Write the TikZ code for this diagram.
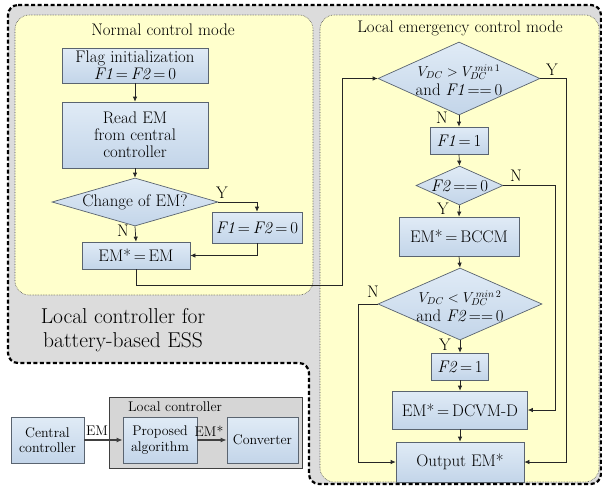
\documentclass[tikz,border=0pt]{standalone}
\usepackage{fontspec}
\usetikzlibrary{shapes.geometric,arrows.meta,calc}
\definecolor{boxtop}{HTML}{E0EBF6}
\definecolor{boxbot}{HTML}{C3D5E9}
\definecolor{boxline}{HTML}{5A6470}
\definecolor{panel}{HTML}{FFFFCC}
\definecolor{bggray}{HTML}{DCDCDC}
\definecolor{lcgray}{HTML}{D6D6D6}
\tikzset{
  flowbox/.style={rectangle, draw=boxline, line width=0.7pt, top color=boxtop, bottom color=boxbot, inner sep=1pt, align=center},
  decision/.style={diamond, draw=boxline, line width=0.7pt, top color=boxtop, bottom color=boxbot, inner sep=0pt, aspect=2},
  dtext/.style={inner sep=0pt, align=center},
  conn/.style={draw=black!85, line width=0.7pt, -{Latex[length=5pt,width=4.5pt]}},
  bigconn/.style={draw=black!75, line width=1.2pt, -{Latex[length=6pt,width=5pt]}},
  lbl/.style={inner sep=0pt},
  panelbox/.style={fill=panel, draw=black!70, densely dotted, line width=0.6pt, rounded corners=14pt},
}
\newcommand{\fa}{\textit{F1}}
\newcommand{\fb}{\textit{F2}}
\newcommand{\vcond}[2]{{\fontsize{14.5}{16}\selectfont$V_{DC} #1 V_{DC}^{\,min\,#2}$}}
\begin{document}
\begin{tikzpicture}[x=1pt, y=-1pt, font=\fontsize{16.8}{17}\selectfont]
\useasboundingbox (0,0) rectangle (602,485);
% gray outer region
\path[fill=bggray, draw=black, line width=2.2pt, dash pattern=on 4pt off 2.5pt, rounded corners=10pt]
  (8,5) -- (601,5) -- (601,484) -- (309,484) -- (309,363) -- (8,363) -- cycle;
% panels
\path[panelbox] (15,15) rectangle (313,295);
\path[panelbox] (320,15) rectangle (599,482);
\node[lbl] (t1) at (163,30) {Normal control mode};
\node[lbl] (t2) at (460,28) {Local emergency control mode};
% big label
\node[lbl, align=center, font=\fontsize{21.5}{24}\selectfont] (lcb) at (123,330) {Local controller for\\battery-based ESS};
% left flowchart
\node[flowbox, minimum width=146pt, minimum height=35pt] (flag) at (135,65.5) {Flag initialization\\\fa\,=\,\fb\,=\,0};
\node[flowbox, minimum width=146pt, minimum height=66pt] (read) at (135,135) {Read EM\\from central\\controller};
\node[decision, minimum width=166pt, minimum height=48pt] (chg) at (135,202) {};
\node[dtext] (chgt) at (135,202) {Change of EM?};
\node[flowbox, minimum width=90pt, minimum height=31pt] (f12) at (257,227.5) {\fa\,=\,\fb\,=\,0};
\node[flowbox, minimum width=108pt, minimum height=27pt] (emeq) at (136,255.5) {EM*\,=\,EM};
\draw[conn] (flag) -- (read);
\draw[conn] (read) -- (chg);
\draw[conn] (chg.south) -- (emeq.north);
\node[lbl] (n1) at (123,231) {N};
\draw[conn] (chg.east) -| (f12.north);
\node[lbl] (y1) at (222,193) {Y};
\draw[conn] (f12.south) |- (emeq.east);
% right flowchart
\node[decision, minimum width=162pt, minimum height=73pt] (d1) at (459,78.5) {};
\node[dtext] (d1t) at (459,80) {\vcond{>}{1}\\[2pt]and \fa\,==\,0};
\node[flowbox, minimum width=58pt, minimum height=27pt] (f1) at (459,140.5) {\fa\,=\,1};
\node[decision, minimum width=87pt, minimum height=39pt] (d2) at (459.5,185.5) {};
\node[dtext] (d2t) at (459.5,186) {\fb\,==\,0};
\node[flowbox, minimum width=120pt, minimum height=39pt] (bccm) at (459,236.5) {EM*\,=\,BCCM};
\node[decision, minimum width=164pt, minimum height=72pt] (d3) at (460,304) {};
\node[dtext] (d3t) at (460,306) {\vcond{<}{2}\\[2pt]and \fb\,==\,0};
\node[flowbox, minimum width=57pt, minimum height=27pt] (f2) at (460,366.5) {\fb\,=\,1};
\node[flowbox, minimum width=135pt, minimum height=38pt] (dcvm) at (460,410) {EM*\,=\,DCVM-D};
\node[flowbox, minimum width=128pt, minimum height=40pt] (out) at (460,462) {Output EM*};
\coordinate (j1) at (342,285);
\coordinate (r1) at (566,78.5);
\coordinate (r2) at (555,185.5);
\coordinate (l3) at (358,304);
\draw[conn] (emeq.south) |- (j1) |- (d1.west);
\draw[conn] (d1.south) -- (f1.north);
\node[lbl] (n2) at (442,118) {N};
\draw[conn] (d1.east) -- (r1) |- (out.east);
\node[lbl] (y2) at (552,70) {Y};
\draw[conn] (f1.south) -- (d2.north);
\draw[conn] (d2.east) -- (r2) |- (dcvm.east);
\node[lbl] (n3) at (516,176) {N};
\draw[conn] (d2.south) -- (bccm.north);
\node[lbl] (y3) at (443,209) {Y};
\draw[conn] (bccm.south) -- (d3.north);
\draw[conn] (d3.west) -- (l3) |- (out.west);
\node[lbl] (n4) at (373,292) {N};
\draw[conn] (d3.south) -- (f2.north);
\node[lbl] (y4) at (445,345) {Y};
\draw[conn] (f2.south) -- (dcvm.north);
\draw[conn] (dcvm.south) -- (out.north);
% bottom block diagram
\begin{scope}[font=\fontsize{14}{15.5}\selectfont]
\node[draw=black!75, fill=lcgray, line width=0.7pt, minimum width=193pt, minimum height=71pt, inner sep=0pt] (lc) at (205.5,432.5) {};
\node[lbl] (lct) at (175,407) {Local controller};
\node[flowbox, minimum width=73pt, minimum height=46pt] (cen) at (47.5,440) {Central\\controller};
\node[flowbox, minimum width=74pt, minimum height=46pt] (prop) at (160,440) {Proposed\\algorithm};
\node[flowbox, minimum width=71pt, minimum height=46pt] (conv) at (262.5,440) {Converter};
\draw[bigconn] (cen.east) -- (prop.west);
\draw[bigconn] (prop.east) -- (conv.west);
\node[lbl] (em1) at (97,431) {EM};
\node[lbl] (em2) at (209,431) {EM*};
\end{scope}
\end{tikzpicture}
\end{document}
